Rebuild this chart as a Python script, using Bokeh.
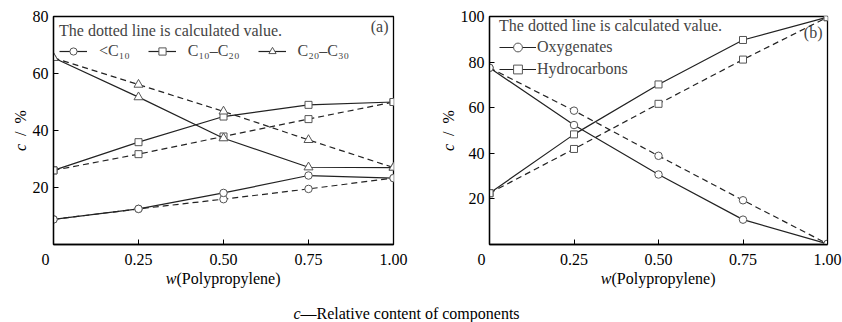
import math
from bokeh.plotting import figure
from bokeh.models import FixedTicker, Label, Legend, LegendItem, Range1d
from bokeh.layouts import column, row
from bokeh.embed import file_html
from bokeh.resources import INLINE

# ---------------- data ----------------
w_pp = [0, 0.25, 0.5, 0.75, 1.0]
x_tick_labels = ["0\u2002\u2002", "0.25", "0.50", "0.75", "1.00"]

# panel (a): carbon-number fractions, experimental (solid) and calculated (dashed)
a_c10_exp = [8.8, 12.5, 18.1, 24.2, 23.3]
a_c10_calc = [8.8, 12.5, 15.9, 19.5, 23.3]
a_c1020_exp = [26.0, 35.9, 44.9, 49.0, 50.0]
a_c1020_calc = [26.0, 31.7, 37.9, 44.0, 50.0]
a_c2030_exp = [65.5, 51.7, 37.3, 27.1, 27.0]
a_c2030_calc = [65.5, 56.1, 46.7, 36.7, 27.0]
a_names = ["<C\u2081\u2080", "C\u2081\u2080\u2013C\u2082\u2080", "C\u2082\u2080\u2013C\u2083\u2080"]
a_yticks = [20, 40, 60, 80]

# panel (b): oxygenates / hydrocarbons
b_oxy_exp = [77.5, 52.4, 30.7, 10.9, 0.3]
b_oxy_calc = [77.5, 58.7, 38.9, 19.4, 0.3]
b_hc_exp = [22.5, 48.3, 70.2, 89.7, 99.7]
b_hc_calc = [22.5, 41.9, 61.7, 81.1, 99.7]
b_names = ["Oxygenates", "Hydrocarbons"]
b_yticks = [20, 40, 60, 80, 100]

note = "The dotted line is calculated value."
y_title = ("c", "\u2002/\u2002%")
x_title = ("w", "(Polypropylene)")
caption = ("c", "\u2014Relative content of components")

FONT = "Liberation Serif"
FS = "16px"
FW, FH = 340, 228   # frame size in px
TOP, BOT = 16, 26
H = TOP + FH + BOT  # 270
BOTTOM_H = 322 - H  # 52


def blank(width, height):
    f = figure(width=width, height=height, output_backend="svg", toolbar_location=None,
               x_range=Range1d(0, width), y_range=Range1d(0, height), min_border=0,
               x_axis_location=None, y_axis_location=None)
    f.outline_line_color = None
    f.xgrid.visible = False
    f.ygrid.visible = False
    f.background_fill_color = "white"
    f.border_fill_color = "white"
    return f


def txt(f, x, y, text, **kw):
    f.add_layout(Label(x=x, y=y, text=text, text_font=FONT, text_font_size=FS,
                       text_color="black", text_baseline="middle", **kw))


def ytitle_fig(width, xc):
    f = blank(width, H)
    split = H - 151
    txt(f, xc, split, y_title[0], angle=math.pi / 2, text_align="right",
        text_font_style="italic")
    txt(f, xc, split, y_title[1], angle=math.pi / 2, text_align="left")
    return f


def make_panel(series, y_max, yticks, tag, bl, br, horizontal):
    p = figure(width=bl + FW + br, height=H, output_backend="svg", toolbar_location=None,
               x_range=Range1d(0, 1), y_range=Range1d(0, y_max),
               min_border_left=bl, min_border_right=br, min_border_top=TOP, min_border_bottom=BOT)
    p.background_fill_color = "white"
    p.border_fill_color = "white"
    p.outline_line_color = "black"
    p.outline_line_width = 1.3
    p.xgrid.visible = False
    p.ygrid.visible = False
    for ax in (p.xaxis[0], p.yaxis[0]):
        ax.major_tick_in = 5
        ax.major_tick_out = 0
        ax.minor_tick_line_color = None
        ax.axis_line_color = "black"
        ax.axis_line_width = 1.3
        ax.major_tick_line_color = "black"
        ax.major_label_text_font = FONT
        ax.major_label_text_font_size = FS
        ax.major_label_text_color = "black"
        ax.major_label_standoff = 6
    p.xaxis.ticker = FixedTicker(ticks=w_pp)
    p.xaxis.major_label_overrides = {float(t): l for t, l in zip(w_pp, x_tick_labels)}
    p.yaxis.ticker = FixedTicker(ticks=yticks)
    p.yaxis.major_label_standoff = 5

    items = []
    for name, exp, calc, marker, msize in series:
        p.line(w_pp, calc, line_color="#222222", line_width=1.2, line_dash="6 4")
        lr = p.line(w_pp, exp, line_color="#222222", line_width=1.2)
        p.scatter(w_pp, calc, marker=marker, size=msize, fill_color="white",
                  line_color="#555555", line_width=1)
        mr = p.scatter(w_pp, exp, marker=marker, size=msize, fill_color="white",
                       line_color="#555555", line_width=1)
        items.append(LegendItem(label=name, renderers=[lr, mr]))

    if horizontal:
        leg = Legend(items=items, location="top_left", title=note, orientation="horizontal")
        leg.padding = 6
        leg.margin = 0
        leg.glyph_width = 28
        leg.label_standoff = 12
        leg.spacing = 18
        leg.glyph_height = 18
        leg.label_height = 18
        leg.title_standoff = 2
    else:
        leg = Legend(items=items, location=(10, 164), title=note, orientation="vertical")
        leg.padding = 0
        leg.margin = 0
        leg.glyph_width = 37
        leg.label_standoff = 1
        leg.spacing = 0
        leg.glyph_height = 22
        leg.label_height = 22
        leg.title_standoff = 1
    leg.background_fill_alpha = 0
    leg.border_line_alpha = 0
    leg.label_text_font = FONT
    leg.label_text_font_size = FS
    leg.title_text_font = FONT
    leg.title_text_font_size = FS
    leg.title_text_font_style = "normal"
    p.add_layout(leg)

    p.add_layout(Label(x=1.0, y=y_max, x_offset=-5, y_offset=-10 if horizontal else -16,
                       text=tag, text_align="right", text_baseline="middle",
                       text_font=FONT, text_font_size=FS))
    return p


ya = ytitle_fig(29, 20)
pa = make_panel([
    (a_names[0], a_c10_exp, a_c10_calc, "circle", 7.5),
    (a_names[1], a_c1020_exp, a_c1020_calc, "square", 7),
    (a_names[2], a_c2030_exp, a_c2030_calc, "triangle", 9),
], 80, a_yticks, "(a)", 24, 28, True)

yb = ytitle_fig(36, 27)
pb = make_panel([
    (b_names[0], b_oxy_exp, b_oxy_calc, "circle", 7.5),
    (b_names[1], b_hc_exp, b_hc_calc, "square", 7),
], 100, b_yticks, "(b)", 30, 15, False)

bottom = blank(842, BOTTOM_H)
xt_y = BOTTOM_H - (278 - H)
for split in (176, 611):
    txt(bottom, split, xt_y, x_title[0], text_align="right", text_font_style="italic")
    txt(bottom, split, xt_y, x_title[1], text_align="left")
cap_y = BOTTOM_H - (313 - H)
txt(bottom, 300, cap_y, caption[0], text_align="right", text_font_style="italic")
txt(bottom, 300, cap_y, caption[1], text_align="left")

layout = column(row(ya, pa, yb, pb), bottom)
open("out.html", "w").write(file_html(layout, INLINE))
